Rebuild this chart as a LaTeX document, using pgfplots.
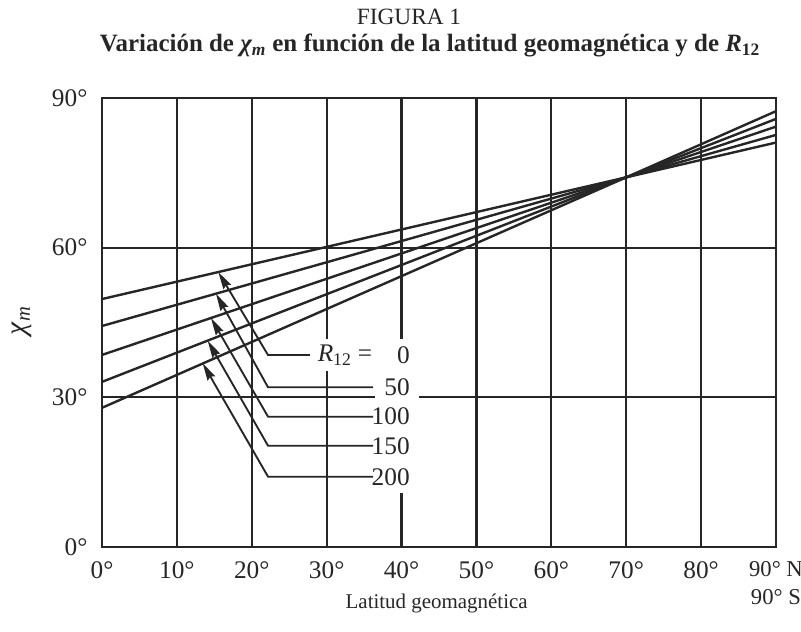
\documentclass[border=0pt]{standalone}
\usepackage{fontspec}
\setmainfont{Liberation Serif}
\usepackage{pgfplots}
\pgfplotsset{compat=1.18}
\usetikzlibrary{arrows.meta}
\definecolor{ink}{HTML}{262626}
\begin{document}
\begin{tikzpicture}[
  num/.style={fill=white, anchor=east, inner xsep=7pt, inner ysep=0pt, minimum height=24.5pt, font=\fontsize{19}{22}\selectfont, text=ink},
  arr/.style={ink, line width=1.4pt, -{Stealth[length=13pt,width=6.5pt,inset=1.5pt]}},
]
\useasboundingbox (-76.5pt,-63.75pt) rectangle (524.25pt,410.25pt);
\begin{axis}[
  at={(0,0)}, anchor=south west, scale only axis,
  width=505.5pt, height=336.75pt,
  xmin=0,xmax=90,ymin=0,ymax=90,
  xtick={0,10,...,90}, ytick={0,30,60,90},
  xticklabels={0°,10°,20°,30°,40°,50°,60°,70°,80°,{{\fontsize{17}{20.8}\selectfont 90° N}\\{\fontsize{17}{20.8}\selectfont 90° S}}},
  yticklabels={0°,30°,60°,90°},
  major tick length=0pt,
  grid=major,
  major grid style={ink,line width=1.6pt},
  axis line style={ink,line width=1.8pt},
  tick label style={font=\fontsize{19}{20.8}\selectfont, text=ink},
  xticklabel style={align=center, anchor=north, yshift=-7.5pt},
  yticklabel style={xshift=-7.4pt},
  clip=false,
]
\addplot[ink, line width=1.8pt] coordinates {(0,49.7) (70,74.1) (90,81.07)};
\addplot[ink, line width=1.8pt] coordinates {(0,44.3) (70,74.1) (90,82.6)};
\addplot[ink, line width=1.8pt] coordinates {(0,38.5) (70,74.1) (90,84.27)};
\addplot[ink, line width=1.8pt] coordinates {(0,33.1) (70,74.1) (90,85.81)};
\addplot[ink, line width=1.8pt] coordinates {(0,27.9) (70,74.1) (90,87.36)};

\node[fill=white, inner xsep=4pt, inner ysep=4pt, font=\fontsize{19}{22}\selectfont, text=ink] at (axis cs:32.45,38.48) {\textit{R}\textsubscript{12} =};
\node[num] at (axis cs:42.37,38.48) {0};
\node[num] at (axis cs:42.37,32.01) {50};
\node[num] at (axis cs:42.37,26.12) {100};
\node[num] at (axis cs:42.37,20.30) {150};
\node[num] at (axis cs:42.37,14.09) {200};

\draw[arr] (axis cs:27.77,38.48) -- (axis cs:22.17,38.48) -- (axis cs:15.53,55.11);
\draw[arr] (axis cs:36.19,32.01) -- (axis cs:22.17,32.01) -- (axis cs:15.22,50.78);
\draw[arr] (axis cs:36.19,26.12) -- (axis cs:22.17,26.12) -- (axis cs:14.55,45.90);
\draw[arr] (axis cs:36.19,20.30) -- (axis cs:22.17,20.30) -- (axis cs:14.11,41.36);
\draw[arr] (axis cs:36.19,14.09) -- (axis cs:22.17,14.09) -- (axis cs:13.45,36.82);
\end{axis}
\node[font=\fontsize{15.7}{18}\selectfont, text=ink] at (251pt,-42pt) {Latitud geomagnética};
\node[rotate=90, font=\fontsize{22}{24}\selectfont, text=ink] at (-60pt,169.5pt) {\textit{χ}\textsubscript{\textit{m}}};
\node[anchor=base, font=\fontsize{17.5}{20}\selectfont, text=ink] at (230.25pt,391.5pt) {FIGURA 1};
\node[anchor=base, font=\bfseries\fontsize{18.7}{22}\selectfont, text=ink] at (246pt,371.5pt) {Variación de \textit{χ\textsubscript{m}} en función de la latitud geomagnética y de \textit{R}\textsubscript{12}};
\end{tikzpicture}
\end{document}
